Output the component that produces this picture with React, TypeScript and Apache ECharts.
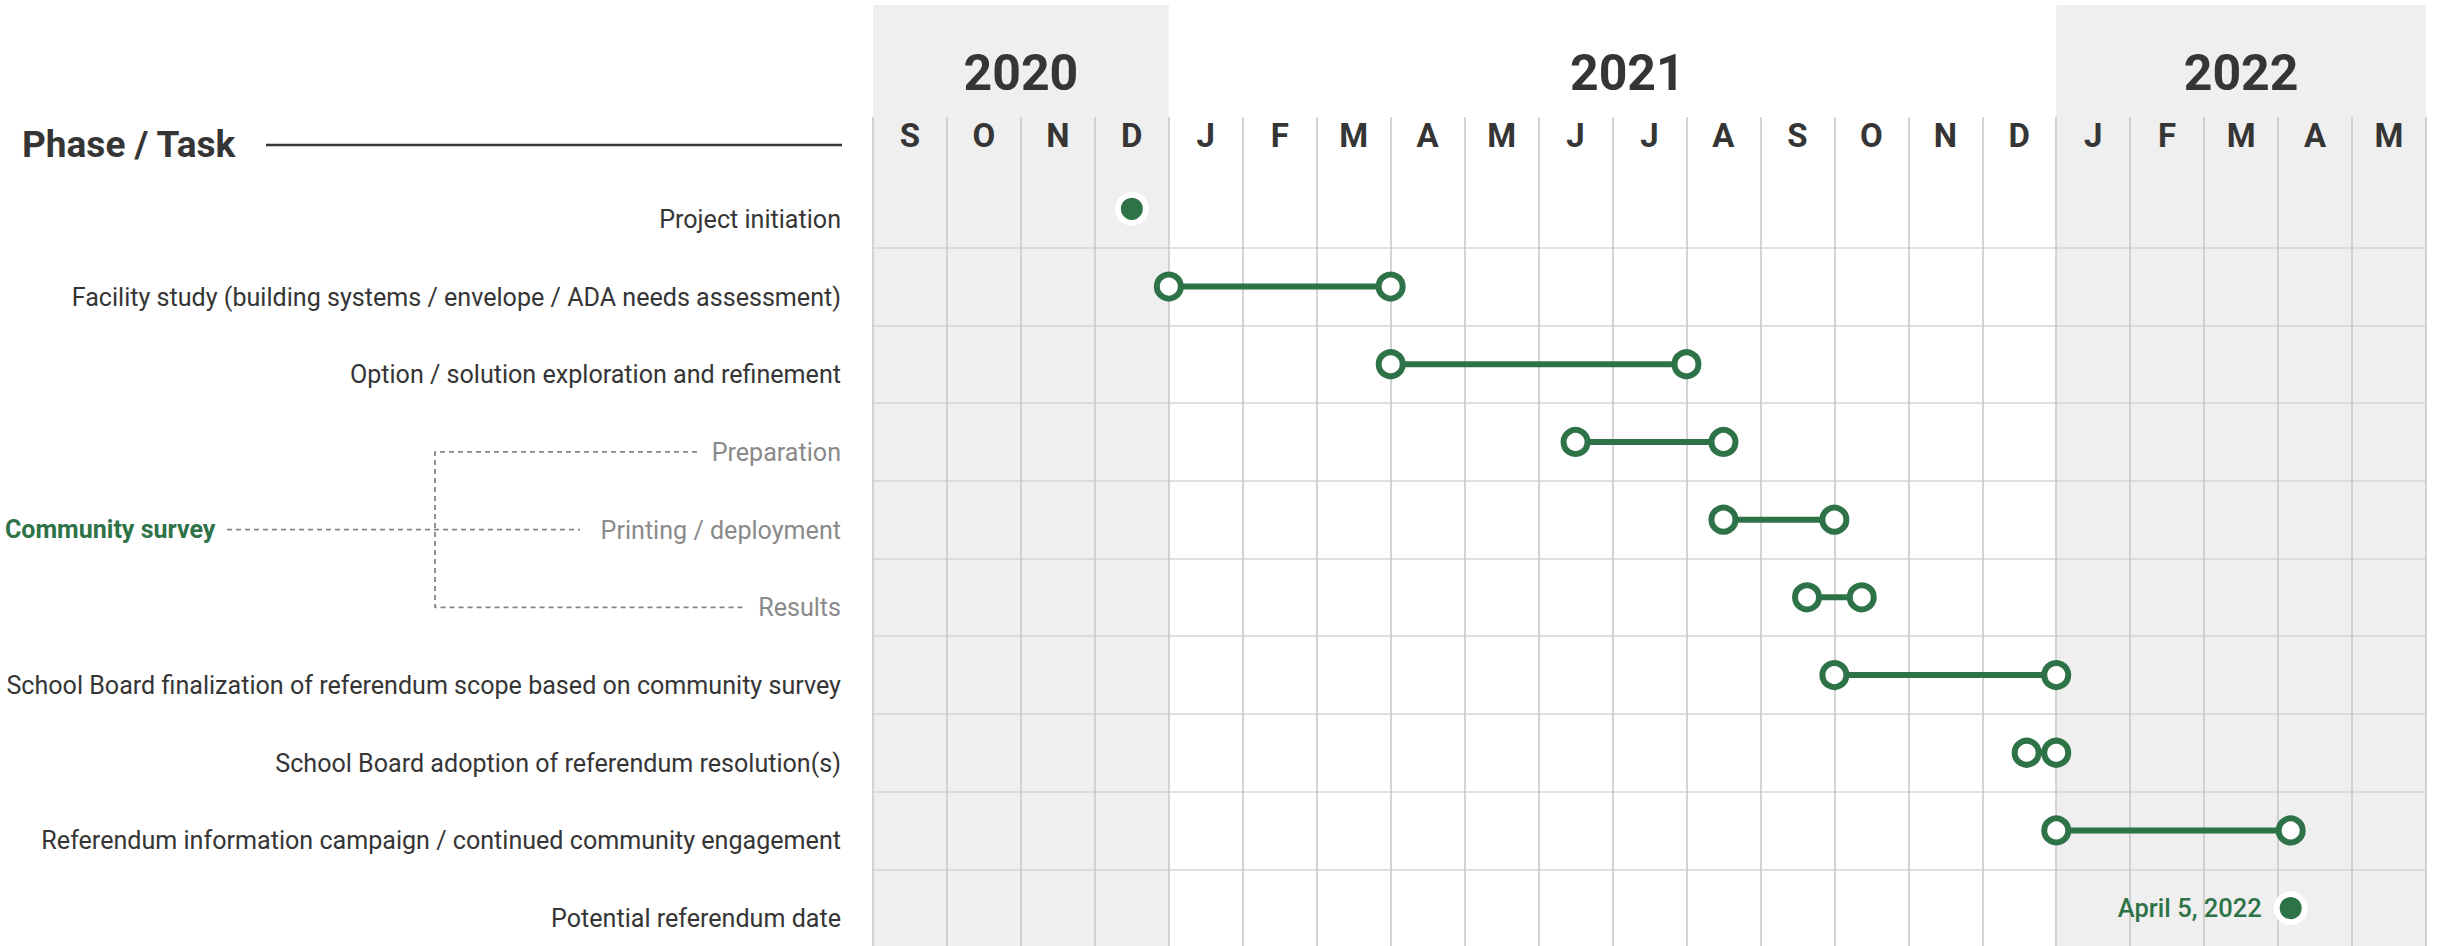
import React, { useEffect, useRef } from 'react';
import * as echarts from 'echarts';

const GREEN = '#2e7347';
const DARK = '#353535';
const SUB = '#8a8a8a';
const FONT = 'Roboto, "Liberation Sans", sans-serif';

// Time unit: months since 1 Sep 2020
const months = ['S', 'O', 'N', 'D', 'J', 'F', 'M', 'A', 'M', 'J', 'J', 'A', 'S', 'O', 'N', 'D', 'J', 'F', 'M', 'A', 'M'];
const years = ['2020', '2021', '2022'];
const yearCenters = [2, 10.2, 18.5];
const shadedSpans = [[0, 4], [16, 21]];

const tasks = [
  'Project initiation',
  'Facility study (building systems / envelope / ADA needs assessment)',
  'Option / solution exploration and refinement',
  'Preparation',
  'Printing / deployment',
  'Results',
  'School Board finalization of referendum scope based on community survey',
  'School Board adoption of referendum resolution(s)',
  'Referendum information campaign / continued community engagement',
  'Potential referendum date',
];
const subTasks = ['Preparation', 'Printing / deployment', 'Results'];
const taskStart = [3.5, 4, 7, 9.5, 11.5, 12.63, 13, 15.6, 16, 19.17];
const taskEnd: (number | null)[] = [null, 7, 11, 11.5, 13, 13.37, 16, 16, 19.17, null];
const milestoneLabels: (string | null)[] = [null, null, null, null, null, null, null, null, null, 'April 5, 2022'];

const groupLabel = 'Community survey';
const groupParent = 'Printing / deployment';

export default function App() {
  const ref = useRef<HTMLDivElement>(null);
  useEffect(() => {
    if (!ref.current) return;
    const chart = echarts.init(ref.current, null, { renderer: 'svg' });

    const L = 873, W = 1553;

    const labelStyle = {
      fontFamily: FONT,
      fontSize: 25.1,
      verticalAlign: 'top',
      lineHeight: 21,
    };

    const series: any[] = [];
    // gray shading
    series.push({
      type: 'line',
      xAxisIndex: 0,
      yAxisIndex: 0,
      data: [],
      z: 1,
      silent: true,
      markArea: {
        silent: true,
        z: 1,
        itemStyle: { color: '#efefef', opacity: 1 },
        data: shadedSpans.map(([a, b]) => [{ xAxis: a }, { xAxis: b }]),
      },
    });
    // year labels
    series.push({
      type: 'scatter',
      xAxisIndex: 0,
      yAxisIndex: 0,
      symbolSize: 0,
      itemStyle: { opacity: 1 },
      z: 4,
      data: years.map((y, i) => ({ value: [yearCenters[i], 68], name: y })),
      label: {
        show: true,
        position: 'inside',
        formatter: (p: any) => p.name,
        color: DARK,
        fontFamily: FONT,
        fontWeight: 'bold',
        fontSize: 50,
      },
    });
    // spans
    tasks.forEach((t, i) => {
      const e = taskEnd[i];
      if (e === null) return;
      series.push({
        type: 'line',
        xAxisIndex: 2,
        yAxisIndex: 2,
        data: [[taskStart[i], t], [e, t]],
        symbol: 'circle',
        symbolSize: 24,
        itemStyle: { color: '#ffffff', borderColor: GREEN, borderWidth: 6, opacity: 1 },
        lineStyle: { color: GREEN, width: 6 },
        z: 5,
      });
    });
    // milestones
    series.push({
      type: 'scatter',
      xAxisIndex: 2,
      yAxisIndex: 2,
      symbol: 'circle',
      symbolSize: 28,
      itemStyle: { color: GREEN, borderColor: '#ffffff', borderWidth: 6, opacity: 1 },
      data: tasks
        .map((t, i) => (taskEnd[i] === null ? { value: [taskStart[i], t], lab: milestoneLabels[i] } : null))
        .filter(Boolean),
      label: {
        show: true,
        position: 'left',
        distance: 12,
        formatter: (p: any) => p.data.lab || '',
        color: GREEN,
        fontFamily: FONT,
        fontWeight: 500,
        fontSize: 25.5,
      },
      z: 6,
    });
    // bracket (dashed) for community survey
    const dash = { color: '#858585', width: 1.8, type: [5, 4] };
    series.push({
      type: 'line',
      xAxisIndex: 3,
      yAxisIndex: 3,
      data: [[697, subTasks[0]], [435, subTasks[0]], [435, subTasks[2]], [743, subTasks[2]]],
      symbol: 'none',
      lineStyle: dash,
      silent: true,
    });
    series.push({
      type: 'line',
      xAxisIndex: 3,
      yAxisIndex: 3,
      data: [[227, groupParent], [580, groupParent]],
      symbol: 'none',
      lineStyle: dash,
      silent: true,
    });
    series.push({
      type: 'scatter',
      xAxisIndex: 3,
      yAxisIndex: 3,
      symbolSize: 0,
      itemStyle: { opacity: 1 },
      data: [{ value: [5, groupParent], name: groupLabel }],
      label: {
        show: true,
        position: 'right',
        distance: 0,
        formatter: (p: any) => p.name,
        color: GREEN,
        fontFamily: FONT,
        fontWeight: 'bold',
        fontSize: 25,
      },
    });

    const g = { outerBoundsMode: 'none', containLabel: false };
    const option: any = {
      animation: false,
      backgroundColor: '#ffffff',
      grid: [
        { ...g, left: L, width: W, top: 5, height: 942 },
        { ...g, left: L, width: W, top: 117, height: 53 },
        { ...g, left: L, width: W, top: 170, height: 777 },
        { ...g, left: 0, width: L, top: 180, height: 777 },
      ],
      xAxis: [
        { type: 'value', gridIndex: 0, min: 0, max: 21, show: false },
        {
          type: 'category',
          gridIndex: 1,
          z: 2,
          data: months,
          boundaryGap: true,
          position: 'bottom',
          axisLine: { show: false },
          axisTick: { show: false },
          axisLabel: {
            inside: true,
            interval: 0,
            margin: 18,
            color: DARK,
            fontFamily: FONT,
            fontWeight: 'bold',
            fontSize: 33,
          },
          splitLine: { show: true, interval: 0, lineStyle: { color: '#c6c6c6', width: 1.5 } },
        },
        {
          type: 'value',
          gridIndex: 2,
          z: 2,
          min: 0,
          max: 21,
          interval: 1,
          axisLine: { show: false },
          axisTick: { show: false },
          axisLabel: { show: false },
          splitLine: { show: true, lineStyle: { color: '#c6c6c6', width: 1.5 } },
        },
        { type: 'value', gridIndex: 3, min: 0, max: L, show: false },
      ],
      yAxis: [
        { type: 'value', gridIndex: 0, min: 0, max: 942, inverse: true, show: false },
        { type: 'value', gridIndex: 1, min: 0, max: 1, show: false },
        {
          type: 'category',
          gridIndex: 2,
          z: 2,
          inverse: true,
          data: tasks.map((t) =>
            subTasks.includes(t) ? { value: t, textStyle: { ...labelStyle, color: SUB } } : t
          ),
          axisLine: { show: false },
          axisTick: { show: false },
          axisLabel: {
            interval: 0,
            margin: 32,
            color: DARK,
            ...labelStyle,
          },
          splitLine: { show: true, interval: 0, showMinLine: false, lineStyle: { color: '#d4d4d4', width: 1.5 } },
        },
        { type: 'category', gridIndex: 3, inverse: true, data: tasks, show: false },
      ],
      graphic: [
        {
          type: 'text',
          left: 22,
          top: 126,
          style: {
            text: 'Phase / Task',
            fill: DARK,
            font: `bold 37px ${FONT}`,
          },
        },
        {
          type: 'line',
          shape: { x1: 266, y1: 145, x2: 842, y2: 145 },
          style: { stroke: DARK, lineWidth: 2.5 },
        },
      ],
      series,
    };
    chart.setOption(option);
    return () => chart.dispose();
  }, []);
  return <div ref={ref} style={{ position: 'fixed', left: 0, top: 0, width: 2440, height: 946 }} />;
}
